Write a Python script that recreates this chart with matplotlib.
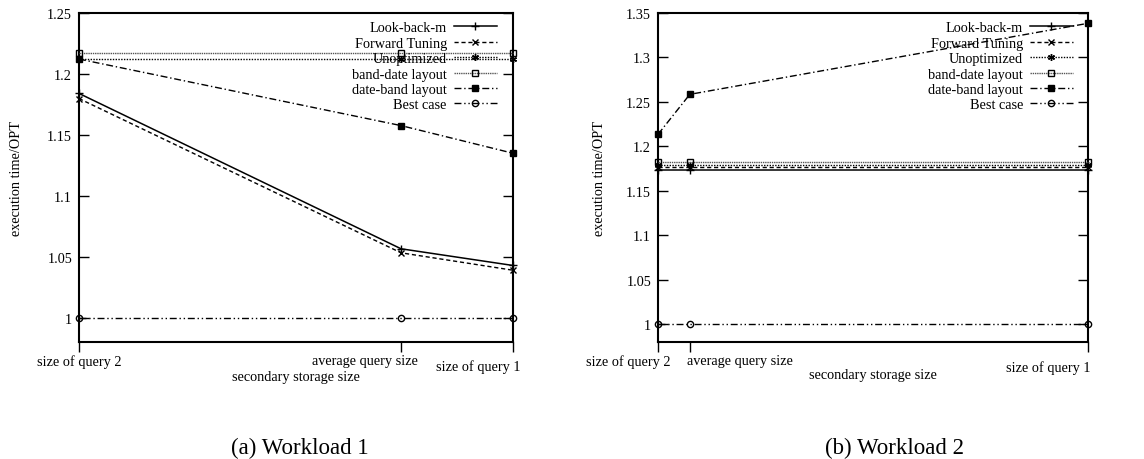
import matplotlib
matplotlib.use("Agg")
import matplotlib.pyplot as plt

plt.rcParams['font.family'] = ['Liberation Serif', 'DejaVu Serif']

# ---- data ----
tick_labels = ["size of query 2", "average query size", "size of query 1"]
series_names = ["Look-back-m", "Forward Tuning", "Unoptimized",
                "band-date layout", "date-band layout", "Best case"]

# Workload 1 (storage sizes, normalised)
w1_x = [0.0, 0.742, 1.0]
w1_lookback = [1.184, 1.0565, 1.0428]
w1_forward = [1.1798, 1.0532, 1.0389]
w1_unopt = [1.2122, 1.2122, 1.2122]
w1_banddate = [1.2168, 1.2168, 1.2168]
w1_dateband = [1.2122, 1.1576, 1.1349]
w1_best = [1.0, 1.0, 1.0]

# Workload 2
w2_x = [0.0, 0.074, 1.0]
w2_lookback = [1.1737, 1.1737, 1.1737]
w2_forward = [1.1768, 1.1768, 1.1768]
w2_unopt = [1.1792, 1.1792, 1.1792]
w2_banddate = [1.182, 1.182, 1.182]
w2_dateband = [1.2135, 1.2585, 1.3384]
w2_best = [1.0, 1.0, 1.0]

w1_yticks = [1, 1.05, 1.1, 1.15, 1.2, 1.25]
w1_yticklabels = ["1", "1.05", "1.1", "1.15", "1.2", "1.25"]
w2_yticks = [1, 1.05, 1.1, 1.15, 1.2, 1.25, 1.3, 1.35]
w2_yticklabels = ["1", "1.05", "1.1", "1.15", "1.2", "1.25", "1.3", "1.35"]

FS = 10.3
W, H = 1144, 460
fig = plt.figure(figsize=(W / 100, H / 100), dpi=100)

styles = [
    dict(color='black', lw=1.1, ls='-', marker='+', ms=6, mew=1.0),
    dict(color='black', lw=1.0, ls=(0, (3, 2)), marker='x', ms=5, mew=1.0),
    dict(color='black', lw=1.0, ls=(0, (1, 1)), marker=(6, 2, 0), ms=5, mew=1.0),
    dict(color='#555555', lw=1.0, ls=(0, (1, 0.6)), marker='s', ms=5, mew=1.0, mfc='none', mec='black'),
    dict(color='black', lw=1.0, ls=(0, (5, 2, 1, 2)), marker='s', ms=5, mew=1.0, mfc='black'),
    dict(color='black', lw=1.0, ls=(0, (5, 2, 1, 2, 1, 2)), marker='o', ms=4.5, mew=1.0, mfc='none'),
]


def make_panel(rect, xs, ys_list, ylim, yticks, yticklabels, legend_x,
               label_offsets, xlabel_y, caption, cap_x):
    ax = fig.add_axes(rect)
    for name, ys, st in zip(series_names, ys_list, styles):
        ax.plot(xs, ys, label=name, clip_on=False, zorder=3, **st)
    ax.set_xlim(0, 1)
    ax.set_ylim(*ylim)
    ax.set_yticks(yticks)
    ax.set_yticklabels(yticklabels, fontsize=FS)
    ax.set_xticks(xs)
    ax.set_xticklabels([""] * len(xs))
    # tick labels placed at their ticks, nudged as in the original layout
    for x, lab, (dx, dy) in zip(xs, tick_labels, label_offsets):
        ax.annotate(lab, xy=(x, 0), xycoords=('data', 'axes fraction'),
                    xytext=(dx, -dy), textcoords='offset pixels',
                    ha='center', va='center', fontsize=FS, annotation_clip=False)
    ax.tick_params(axis='y', direction='in', length=7, width=1.0, right=True, pad=5)
    ax.tick_params(axis='x', direction='out', length=7, width=1.0)
    for sp in ax.spines.values():
        sp.set_linewidth(1.5)
    ax.set_ylabel("execution time/OPT", fontsize=FS)
    ax.set_xlabel("secondary storage size", fontsize=FS)
    ax.xaxis.set_label_coords(0.5, xlabel_y)
    ax.xaxis.label.set_va('center')
    leg = ax.legend(loc='upper right', bbox_to_anchor=(legend_x, 0.975), frameon=False,
                    markerfirst=False, fontsize=FS, handlelength=3.0, handletextpad=0.5,
                    labelspacing=0.17, borderpad=0, borderaxespad=0)
    for t in leg.get_texts():
        t.set_ha('right')
    fig.text(cap_x / W, 1 - 448 / H, caption, fontsize=16.5, ha='center', va='center')
    return ax


ax1 = make_panel([79 / W, 117 / H, 434 / W, 329 / H], w1_x,
                 [w1_lookback, w1_forward, w1_unopt, w1_banddate, w1_dateband, w1_best],
                 (0.98, 1.25), w1_yticks, w1_yticklabels, 0.963,
                 [(0, 19), (-36, 19), (-35, 24)], -35 / 329, "(a) Workload 1", 300)
ax2 = make_panel([658 / W, 117 / H, 430 / W, 329 / H], w2_x,
                 [w2_lookback, w2_forward, w2_unopt, w2_banddate, w2_dateband, w2_best],
                 (0.98, 1.35), w2_yticks, w2_yticklabels, 0.965,
                 [(-30, 19), (50, 19), (-40, 25)], -33 / 329, "(b) Workload 2", 895)
ax1.yaxis.set_label_coords(-0.129, 0.5)
ax2.yaxis.set_label_coords(-0.121, 0.5)

fig.savefig("out.png", dpi=100)
